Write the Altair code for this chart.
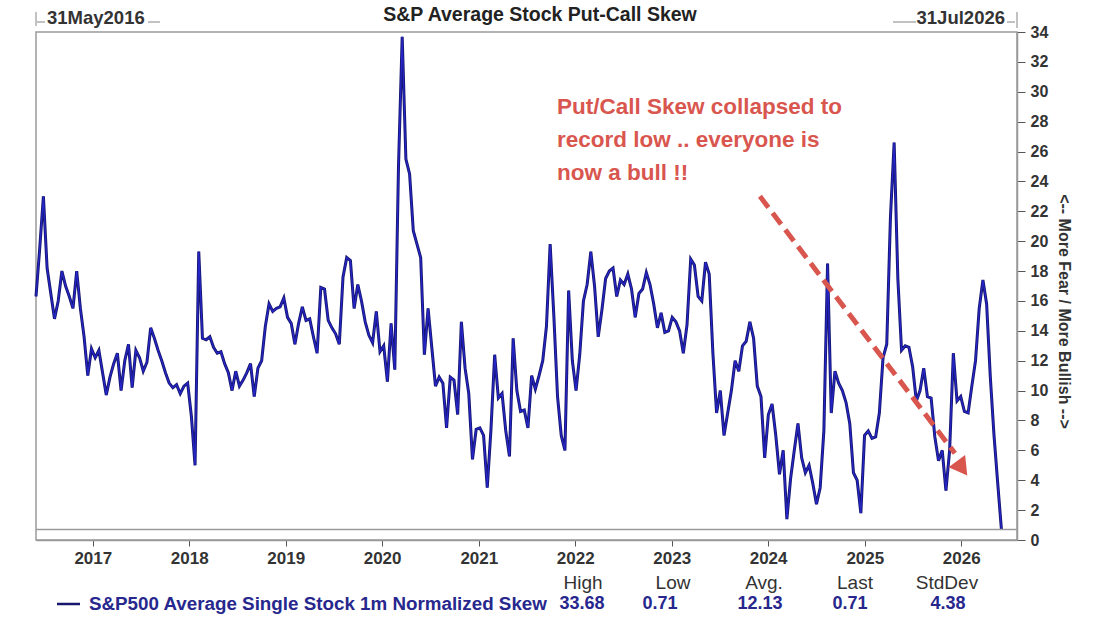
import altair as alt
import pandas as pd

# ---------------- data ----------------
series_start = "2016-05-31"          # first observation
sample_every = "14D"                 # spacing of the readings below
skew = [
    16.3, 19.5, 23.0, 18.2, 16.5, 14.8, 16.0, 18.0, 17.0, 16.3,
    15.5, 18.0, 15.5, 13.6, 11.0, 12.8, 12.2, 12.7, 11.2, 9.7,
    10.9, 11.8, 12.5, 10.0, 12.0, 13.1, 10.2, 12.7, 12.2, 11.3,
    11.9, 14.2, 13.5, 12.7, 12.0, 11.2, 10.5, 10.2, 10.4, 9.8,
    10.3, 10.5, 8.3, 5.0, 19.3, 13.5, 13.4, 13.6, 12.9, 12.5,
    12.6, 11.8, 11.2, 10.0, 11.3, 10.3, 10.7, 11.2, 11.8, 9.6,
    11.5, 12.0, 14.3, 15.8, 15.3, 15.5, 15.6, 16.2, 14.9, 14.5,
    13.1, 14.5, 15.6, 14.7, 14.8, 13.6, 12.5, 16.9, 16.8, 14.7,
    14.2, 13.8, 13.1, 17.6, 18.9, 18.7, 15.5, 17.1, 16.0, 14.6,
    13.7, 13.2, 15.3, 12.6, 13.0, 10.6, 14.5, 11.4, 25.0, 33.68,
    25.5, 24.5, 20.7, 19.8, 18.9, 12.4, 15.5, 12.9, 10.3, 10.9,
    10.5, 7.5, 10.9, 10.7, 8.4, 14.6, 11.5, 9.8, 5.4, 7.4,
    7.5, 7.0, 3.5, 7.4, 12.4, 9.5, 9.8, 7.3, 5.6, 13.5,
    10.0, 8.6, 8.7, 7.5, 11.0, 10.1, 11.0, 12.0, 14.3, 19.8,
    15.0, 9.6, 7.0, 6.0, 16.7, 12.0, 10.0, 12.4, 16.0, 17.1,
    19.3, 17.0, 13.6, 15.4, 17.5, 18.0, 18.2, 16.3, 17.4, 17.1,
    17.8, 16.8, 14.9, 16.5, 16.8, 17.9, 17.1, 15.8, 14.2, 15.2,
    13.9, 14.0, 14.9, 14.6, 14.0, 12.5, 14.4, 18.8, 18.4, 16.3,
    16.0, 18.6, 17.8, 12.5, 8.5, 10.0, 7.0, 8.5, 10.0, 12.0,
    11.3, 13.0, 13.3, 14.6, 13.5, 10.3, 9.6, 5.5, 8.4, 9.1,
    7.0, 4.4, 6.0, 1.4, 4.1, 6.0, 7.8, 5.5, 4.5, 5.0,
    3.8, 2.4, 3.5, 7.3, 18.5, 8.5, 11.3, 10.5, 10.0, 9.2,
    7.8, 4.5, 4.0, 1.8, 7.0, 7.3, 6.8, 6.9, 8.5, 12.2,
    13.1, 21.6, 26.6, 17.5, 12.7, 13.0, 12.9, 11.6, 9.3, 10.0,
    11.5, 9.6, 9.5, 6.9, 5.3, 6.0, 3.3, 6.0, 12.5, 9.3,
    9.6, 8.6, 8.5, 10.3, 12.0, 15.5, 17.4, 15.8, 10.9, 7.0,
    3.8, 0.71,
]
last_value = 0.71
range_labels = ["31May2016", "31Jul2026"]
year_ticks = list(range(2017, 2027))
y_ticks = list(range(0, 35, 2))
stat_names = ["High", "Low", "Avg.", "Last", "StdDev"]
stat_values = ["33.68", "0.71", "12.13", "0.71", "4.38"]
series_name = "S&P500 Average Single Stock 1m Normalized Skew"
chart_title = "S&P Average Stock Put-Call Skew"
y_title = "<-- More Fear / More Bullish -->"
note_lines = ["Put/Call Skew collapsed to", "record low .. everyone is", "now a bull !!"]
arrow_dates = ["2023-12-01", "2025-12-08"]
arrow_values = [23.0, 5.8]
arrow_head_date = ["2026-01-04"]
arrow_head_value = [4.8]

df = pd.DataFrame({"date": pd.date_range(series_start, periods=len(skew), freq=sample_every),
                   "skew": skew})

FONT = "Liberation Sans"
NAVY = "#16166e"
BLUE = "#2626c8"
TEXT_BLUE = "#27278e"
RED = "#d9564f"

x_scale = alt.Scale(domain=[alt.DateTime(year=2016, month=5, date=31),
                            alt.DateTime(year=2026, month=7, date=31)])
y_scale = alt.Scale(domain=[0, 34], nice=False, zero=False)

x_axis = alt.Axis(values=[alt.DateTime(year=y, month=1, date=1) for y in year_ticks],
                  format="%Y", labelFont=FONT, labelFontWeight="bold", labelFontSize=17,
                  labelColor="#333", domainColor="#999", domainWidth=1.5,
                  tickColor="#555", tickSize=6, labelPadding=4, grid=False, title=None,
                  labelFlush=False, labelOverlap=False)
y_axis = alt.Axis(orient="right", values=y_ticks, tickCount=18, labelFont=FONT,
                  labelFontWeight="bold", labelFontSize=16, labelColor="#333",
                  domainColor="#999", domainWidth=1.5,
                  tickColor="#555", tickSize=8, labelPadding=5, grid=False,
                  labelOverlap=False, labelBound=False,
                  title=y_title, titleFont=FONT, titleFontSize=16, titleFontWeight="bold",
                  titleColor="#333", titlePadding=8, titleY=279, labelFlush=False)


def X(field):
    return alt.X(field, type="temporal", scale=x_scale, axis=x_axis)


def Y(field):
    return alt.Y(field, type="quantitative", scale=y_scale, axis=y_axis)


line_dark = alt.Chart(df).mark_line(color=NAVY, strokeWidth=3).encode(
    x=X("date"), y=Y("skew"))
line_blue = alt.Chart(df).mark_line(color=BLUE, strokeWidth=1.3).encode(
    x=X("date"), y=Y("skew"))

last_rule = alt.Chart(pd.DataFrame({"v": [last_value]})).mark_rule(
    color="#9a9a9a", strokeWidth=1.5).encode(y=Y("v"))

arrow_df = pd.DataFrame({"date": pd.to_datetime(arrow_dates), "v": arrow_values})
arrow = alt.Chart(arrow_df).mark_line(color=RED, strokeWidth=5, strokeDash=[14, 7]).encode(
    x=X("date"), y=Y("v"))
head_df = pd.DataFrame({"date": pd.to_datetime(arrow_head_date), "v": arrow_head_value})
head = alt.Chart(head_df).mark_point(shape="triangle-up", filled=True, size=420, angle=144,
                                     color=RED, opacity=1).encode(x=X("date"), y=Y("v"))


def label(text, x, y, size=14, weight="bold", color="#222", align="left", font=FONT,
          baseline="middle"):
    return alt.Chart(pd.DataFrame({"t": [text]})).mark_text(
        font=font, fontSize=size, fontWeight=weight, color=color, align=align,
        baseline=baseline).encode(x=alt.value(x), y=alt.value(y), text="t:N")


def seg(x1, x2, y1, y2, color="#999", w=1.2):
    return alt.Chart(pd.DataFrame({"a": [0]})).mark_rule(color=color, strokeWidth=w).encode(
        x=alt.value(x1), x2=alt.value(x2), y=alt.value(y1), y2=alt.value(y2))


layers = [line_dark, line_blue, last_rule, arrow, head]

# annotation
note = alt.Chart(pd.DataFrame({"t": ["\n".join(note_lines)]})).mark_text(
    font=FONT, fontSize=22.5, fontWeight="bold", color=RED, align="left",
    baseline="alphabetic", lineBreak="\n", lineHeight=33).encode(
    x=alt.value(521), y=alt.value(82), text="t:N")
layers.append(note)

# header texts
layers.append(label(chart_title, 504, -17, size=19.5, align="center"))
layers.append(label(range_labels[0], 11, -14, size=18.5, color="#333"))
layers.append(label(range_labels[1], 969, -14, size=18.5, color="#333", align="right"))
layers += [seg(0, 0, -20, -6), seg(1, 9, -10, -10), seg(112, 124, -10, -10),
           seg(857, 880, -10, -10), seg(971, 979, -10, -10), seg(981, 981, -20, -4)]

# legend / statistics row
layers.append(seg(21, 44, 572, 572, color=NAVY, w=2.5))
layers.append(label(series_name, 53, 572, size=18.8, color=TEXT_BLUE))
head_x = [547, 637, 728, 819, 911]
val_x = [546, 624, 724, 814, 912]
for name, hx in zip(stat_names, head_x):
    layers.append(label(name, hx, 551, size=19, weight="normal", color="#333", align="center"))
for val, vx in zip(stat_values, val_x):
    layers.append(label(val, vx, 572, size=18, color=TEXT_BLUE, align="center"))

chart = alt.layer(*layers).properties(
    width=981, height=508,
    autosize=alt.AutoSizeParams(type="none"),
    padding={"left": 36, "top": 32, "right": 80, "bottom": 88},
    background="white",
).configure_view(stroke="#9a9a9a", strokeWidth=1.5)

chart.save("out.html", embed_options={"renderer": "svg", "actions": False})
